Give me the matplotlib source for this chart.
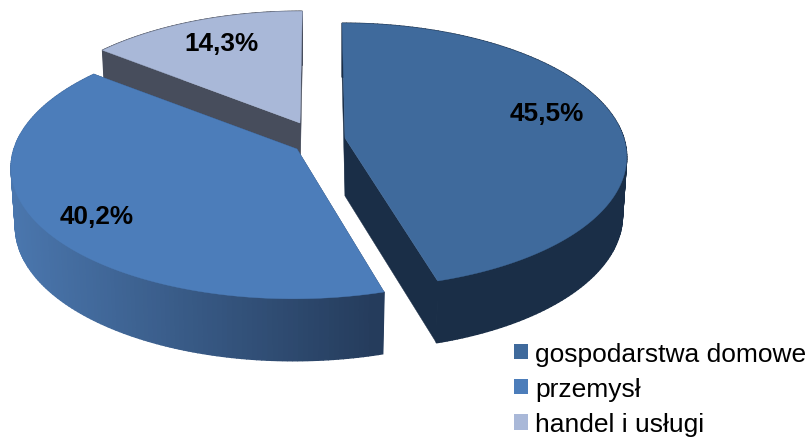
import numpy as np
import matplotlib
matplotlib.use("Agg")
import matplotlib.pyplot as plt
from matplotlib.patches import Patch

categories = ["gospodarstwa domowe", "przemysł", "handel i usługi"]
shares = [45.5, 40.2, 14.3]
top_colors = ["#3F6A9C", "#4C7DBA", "#A9B8D8"]
wall_colors = ["#1A2E47", "#2A4263", "#474D5C"]
side_left = ["#1A2E47", "#4A76AD", "#474D5C"]
side_right = ["#1A2E47", "#253C5C", "#474D5C"]

plt.rcParams["font.family"] = ["Liberation Sans", "DejaVu Sans"]

W, H = 810, 439
fig = plt.figure(figsize=(W / 100, H / 100), dpi=100)
ax = fig.add_axes([0, 0, 1, 1])
ax.set_xlim(0, W)
ax.set_ylim(H, 0)
ax.axis("off")

# centre of each slice's top face, in canvas pixels
centers = [(345, 139), (297, 150), (300, 124)]
radius_scale = [1.0, 1.0, 0.97]
width_scale = [0.985, 1.0, 1.0]
VIEW_X = 320.0
A, B, K = 283.0, 130.0, 0.132


def project(theta, r, c, low=False, sx=1.0):
    """Perspective view of a flat disc; theta clockwise from north."""
    u, v = r * np.sin(theta), r * np.cos(theta)
    w = 1 + K * v
    scale = 0.985 if low else 1.0
    x = VIEW_X + ((c[0] - VIEW_X) + sx * scale * A * u) / w
    y = c[1] - B * v / w + ((58 - 4 * v) if low else 0)
    return x, y


def hexmix(a, b, t):
    ca = np.array(matplotlib.colors.to_rgb(a))
    cb = np.array(matplotlib.colors.to_rgb(b))
    return tuple(ca + (cb - ca) * t)


edges = np.radians(np.concatenate([[0], np.cumsum(shares)]) * 3.6)
# back to front
for i in [2, 1, 0]:
    c = centers[i]
    rs = radius_scale[i]
    sx = width_scale[i]
    base = (2 - i) * 3
    t0, t1 = edges[i], edges[i + 1]
    th = np.linspace(t0, t1, 160)

    # cut faces
    for t in (t0, t1):
        xo, yo = project(t, 0, c)
        xr, yr = project(t, rs, c, sx=sx)
        xl, yl = project(t, rs, c, True, sx=sx)
        xp, yp = project(t, 0, c, True)
        ax.fill([xo, xr, xl, xp], [yo, yr, yl, yp], color=wall_colors[i], lw=0.3,
                zorder=base + 1)

    # outer rim, as thin shaded quads
    for k in range(len(th) - 1):
        a, b = th[k], th[k + 1]
        xa, ya = project(a, rs, c, sx=sx)
        xb, yb = project(b, rs, c, sx=sx)
        xc, yc = project(b, rs, c, True, sx=sx)
        xd, yd = project(a, rs, c, True, sx=sx)
        frac = np.clip((xa - (centers[1][0] - A)) / (2 * A * 0.64), 0, 1)
        col = hexmix(side_left[i], side_right[i], frac)
        ax.fill([xa, xb, xc, xd], [ya, yb, yc, yd], color=col, lw=1.0, zorder=base + 2)

    # top face
    xs, ys = project(th, rs, c, sx=sx)
    ox, oy = project(0.0, 0, c)
    ax.fill(np.r_[ox, xs], np.r_[oy, ys], color=top_colors[i], lw=0.3, zorder=base + 3)

label_xy = [(547, 114), (97, 217), (221, 44)]
for share, (lx, ly) in zip(shares, label_xy):
    ax.text(lx, ly, f"{share:.1f}%".replace(".", ","), ha="center", va="center",
            fontsize=18.8, fontweight="bold", color="black", zorder=20)

handles = [Patch(facecolor=col, edgecolor="none") for col in top_colors]
ax.legend(handles, categories, loc="upper left", bbox_to_anchor=(506 / W, 1 - 335 / H),
          frameon=False, fontsize=19, handlelength=0.53, handleheight=0.53,
          handletextpad=0.27, labelspacing=0.42, borderpad=0, borderaxespad=0.3,
          labelcolor="black")

fig.savefig("out.png", dpi=100)
